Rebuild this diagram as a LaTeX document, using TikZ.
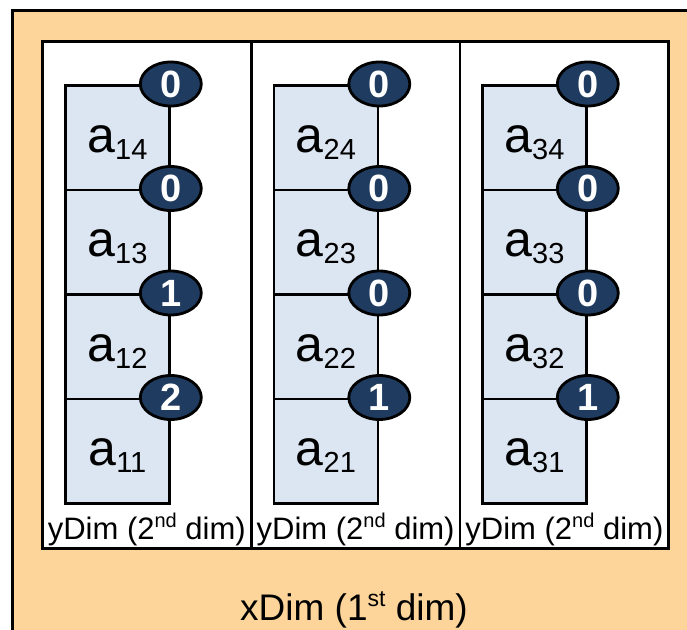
\documentclass[tikz,border=0pt]{standalone}
\usepackage{fontspec}
\setmainfont{Liberation Sans}
\usetikzlibrary{shapes.geometric}
\definecolor{orangebg}{HTML}{FDD59A}
\definecolor{navy}{HTML}{1F3B5F}
\definecolor{cellblue}{HTML}{DCE6F2}
\tikzset{
  outerbox/.style={draw=black, line width=3pt, fill=orangebg},
  dimbox/.style={draw=black, line width=2.8pt, fill=white, rectangle, inner sep=0pt, anchor=north west, minimum width=208.8pt, minimum height=507pt},
  cellbox/.style={draw=black, line width=2.8pt, fill=cellblue, rectangle, inner sep=0pt, anchor=north west, minimum width=104pt, minimum height=104.5pt},
  idx/.style={ellipse, draw=black, line width=2.8pt, fill=navy, text=white, inner sep=0pt, minimum width=61pt, minimum height=44pt, font=\fontsize{38}{38}\selectfont\bfseries},
  celltext/.style={anchor=base, inner sep=0pt, font=\fontsize{50}{52}\selectfont},
  ytext/.style={anchor=base, inner sep=0pt, font=\fontsize{31}{33}\selectfont},
  xtext/.style={anchor=base, inner sep=0pt, font=\fontsize{37}{39}\selectfont}
}
\newcommand{\mysub}[1]{\raisebox{-7pt}{\fontsize{29}{30}\selectfont #1}}
\newcommand{\ysup}[1]{\raisebox{12pt}{\fontsize{20}{20}\selectfont #1}}
\newcommand{\xsup}[1]{\raisebox{14pt}{\fontsize{23}{23}\selectfont #1}}
\begin{document}
\begin{tikzpicture}[x=1pt,y=-1pt]
\useasboundingbox (0,0) rectangle (687,629);
\clip (0,0) rectangle (687,629);
\fill[white] (0,0) rectangle (687,629);
\draw[outerbox] (12,10) rectangle (730,670);
\foreach \i/\da/\db/\dc/\dd in {1/0/0/1/2, 2/0/0/0/1, 3/0/0/0/1}{
  \pgfmathsetmacro{\bx}{41+208.8*(\i-1)}
  \pgfmathsetmacro{\cx}{64+208.5*(\i-1)}
  \node[dimbox] (box\i) at (\bx,40) {};
  \node[ytext] (ylab\i) at ([yshift=10pt]box\i.south) {yDim (2\ysup{nd} dim)};
  \foreach \j/\d in {4/\da,3/\db,2/\dc,1/\dd}{
    \pgfmathsetmacro{\cy}{84+104.5*(4-\j)}
    \node[cellbox] (c\i\j) at (\cx,\cy) {};
    \node[celltext] (t\i\j) at ([yshift=-68pt]c\i\j.north) {a\mysub{\i\j}};
  }
  \foreach \j/\d in {4/\da,3/\db,2/\dc,1/\dd}{
    \node[idx] (e\i\j) at (c\i\j.north east) {\d};
  }
}
\node[xtext] (xlab) at (354,620) {xDim (1\xsup{st} dim)};
\end{tikzpicture}
\end{document}
